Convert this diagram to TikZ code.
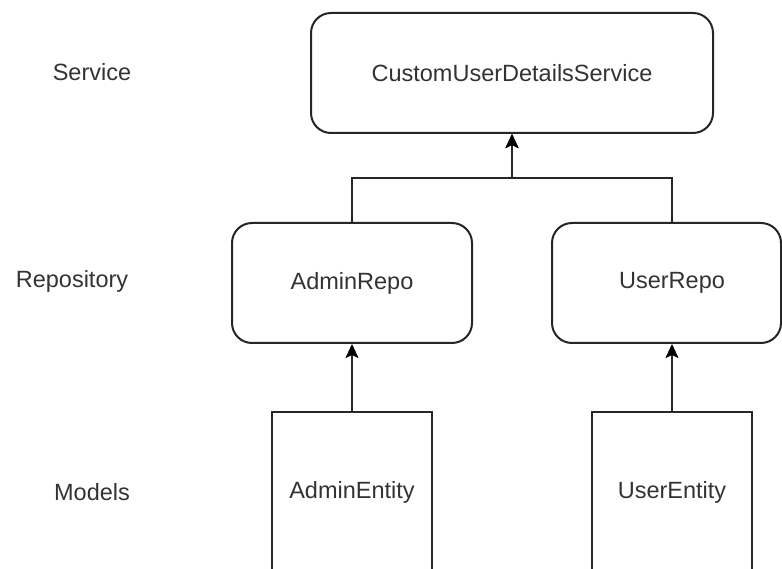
\documentclass[tikz,border=0pt]{standalone}
\usepackage{fontspec}
\setmainfont{Liberation Sans}
\usetikzlibrary{arrows.meta}
\definecolor{txt}{HTML}{333333}
\definecolor{ln}{HTML}{262626}
\begin{document}
\begin{tikzpicture}[x=1pt,y=-1pt,
  font=\fontsize{23.5}{28}\selectfont,
  lbl/.style={text=txt,inner sep=0pt},
  rbox/.style={draw=ln,line width=2pt,rounded corners=20pt,fill=white,text=txt},
  ebox/.style={draw=ln,line width=2pt,fill=white,text=txt,minimum width=160pt,minimum height=160pt},
  arr/.style={draw=ln,line width=2.2pt,-{Stealth[length=14pt,width=13pt,inset=3pt,color=black]}}]
\fill[white] (0,0) rectangle (782,569);
\clip (0,0) rectangle (782,569);
\useasboundingbox (0,0) rectangle (782,569);
% row labels
\node[lbl] (lsvc) at (92,72) {Service};
\node[lbl] (lrepo) at (72,281) {Repository};
\node[lbl] (lmod) at (92,492) {Models};
% nodes
\node[rbox,minimum width=402pt,minimum height=120pt] (svc) at (512,73) {CustomUserDetailsService};
\node[rbox,minimum width=240pt,minimum height=120pt] (arepo) at (352,283) {AdminRepo};
\node[rbox,minimum width=229pt,minimum height=120pt] (urepo) at (666.5,283) {};
\node[text=txt] (urepot) at (672,283) {UserRepo};
\node[ebox] (aent) at (352,492) {AdminEntity};
\node[ebox] (uent) at (672,492) {UserEntity};
% connectors
\coordinate (j) at (512,178);
\coordinate (ua) at (672,223);
\draw[arr] (arepo.north) |- (j) -- (svc.south);
\draw[arr] (ua) |- (j) -- (svc.south);
\draw[arr] (aent.north) -- (arepo.south);
\draw[arr] (uent.north) -- (ua |- urepo.south);
\end{tikzpicture}
\end{document}
